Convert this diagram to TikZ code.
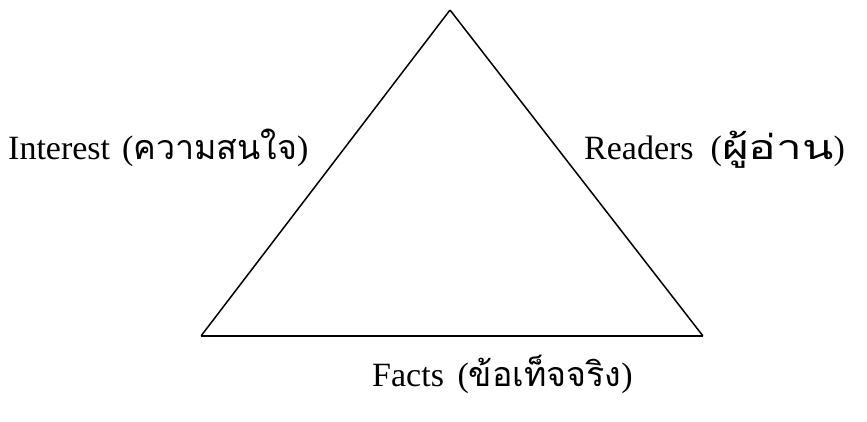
\documentclass[tikz,border=0pt]{standalone}
\usepackage{fontspec}
\setmainfont{Liberation Serif}
\newfontfamily\thaifont[Script=Thai]{Loma}
\usepackage{tikz}
\usetikzlibrary{positioning}
\tikzstyle{corner} = [inner sep=0pt, minimum size=0pt]
\tikzstyle{label} = [font=\fontsize{34}{38}\selectfont, inner sep=0pt, anchor=base west]
\tikzstyle{side} = [line width=1.5pt, black]

\begin{document}
\begin{tikzpicture}[x=1pt, y=-1pt]
      \useasboundingbox (0,0) rectangle (867,421);
      \node (top)[corner] at (450,10) {};
      \node (left)[corner] at (201,336) {};
      \node (right)[corner] at (703,336) {};
      \node (interest)[label] at (8,159) {Interest\hspace{0.35em}({\thaifont ความสนใจ})};
      \node (readers)[label] at (584,159) {Readers\hspace{0.5em}({\thaifont\scalebox{1.35}[1]{ผู้อ่าน}})};
      \node (facts)[label] at (372,386) {Facts\hspace{0.4em}({\thaifont ข้อเท็จจริง})};
      \draw [side](top)--(right);
      \draw [side](right)--(left);
      \draw [side](left)--(top);
    \end{tikzpicture}
\end{document}
